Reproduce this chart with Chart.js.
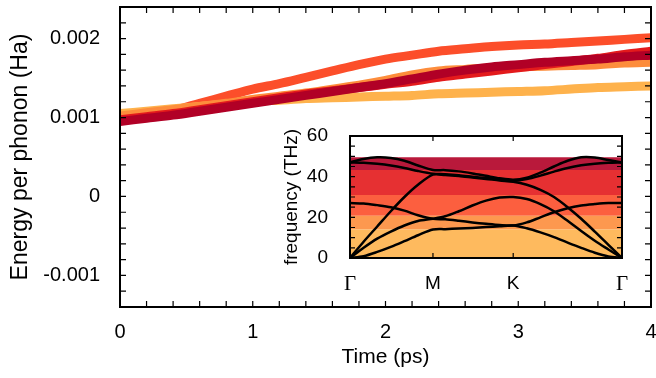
<!DOCTYPE html>
<html>
<head>
<meta charset="utf-8">
<style>
  body { margin: 0; background: #fff; }
  #wrap { position: relative; width: 656px; height: 378px; }
  canvas { position: absolute; }
</style>
</head>
<body>
<div id="wrap">
  <canvas id="energy" width="656" height="378" style="left:0;top:0"></canvas>
  <canvas id="bands" width="360" height="180" style="left:270px;top:120px"></canvas>
</div>
<script src="https://cdn.jsdelivr.net/npm/chart.js"></script>
<script>
// main plot: energy per phonon vs time, one series per frequency window
const times = [0, 0.2, 0.4, 0.6, 0.8, 1, 1.2, 1.4, 1.6, 1.8, 2, 2.2, 2.4, 2.6, 2.8, 3, 3.2, 3.4, 3.6, 3.8, 4];
const eLightOrange = [0.00105, 0.00108, 0.00111, 0.00114, 0.00117, 0.0012, 0.00122, 0.00124, 0.00125, 0.00126, 0.00127, 0.00128, 0.0013, 0.00131, 0.00132, 0.00133, 0.00134, 0.00136, 0.00138, 0.00139, 0.0014];
const eOrange = [0.00102, 0.00106, 0.0011, 0.00114, 0.00118, 0.00123, 0.00127, 0.00131, 0.00136, 0.00141, 0.00147, 0.00154, 0.00159, 0.00161, 0.00163, 0.00164, 0.00165, 0.00166, 0.00167, 0.00169, 0.0017];
const eRedOrange = [0.00099, 0.00103, 0.00109, 0.00118, 0.00127, 0.00136, 0.00143, 0.00151, 0.00159, 0.00167, 0.00174, 0.00179, 0.00184, 0.00187, 0.0019, 0.00192, 0.00193, 0.00195, 0.00197, 0.00199, 0.00201];
const eRed = [0.00097, 0.00101, 0.00105, 0.0011, 0.00115, 0.0012, 0.00125, 0.0013, 0.00134, 0.00138, 0.00142, 0.00146, 0.00151, 0.00155, 0.00159, 0.00163, 0.00167, 0.00171, 0.00175, 0.0018, 0.00184];
const eCrimson = [0.00095, 0.00099, 0.00103, 0.00108, 0.00113, 0.00118, 0.00123, 0.00128, 0.00133, 0.00138, 0.00143, 0.00149, 0.00155, 0.0016, 0.00164, 0.00167, 0.0017, 0.00172, 0.00174, 0.00177, 0.00179];
const timeTicks = [0, 1, 2, 3, 4];
const energyTicks = [-0.001, 0, 0.001, 0.002];
const energyTickLabels = ['-0.001', '0', '0.001', '0.002'];

// inset: phonon dispersion along G-M-K-G
const kPath = [0, 0.05, 0.1, 0.15, 0.2, 0.25, 0.305, 0.35, 0.4, 0.45, 0.5, 0.55, 0.6, 0.65, 0.7, 0.75, 0.8, 0.85, 0.9, 0.95, 1];
const fZA = [0, 0.9, 3, 5.5, 8.3, 11.2, 14, 14.2, 14.5, 14.8, 15.2, 15.6, 16, 14.6, 12.6, 10.3, 7.6, 5, 2.6, 0.8, 0];
const fTA = [0, 5, 9.5, 13, 16, 18.2, 19.3, 20.5, 23, 25.8, 28.2, 29.7, 30, 29, 26.5, 23, 18.3, 13.3, 8.5, 4.2, 0];
const fLA = [0, 8, 15.5, 23, 30, 36, 41, 40.8, 40.3, 39.6, 38.9, 38.1, 37.5, 36, 33.5, 30, 25, 19.3, 13, 6.5, 0];
const fZO = [27, 26.8, 26, 25, 23.3, 21, 19.3, 19, 18.3, 17.5, 16.8, 16.2, 16, 17.5, 20, 22.5, 24.5, 25.8, 26.5, 27, 27];
const fTO = [47, 46.8, 46.3, 45.5, 44.3, 42.8, 41.5, 41.2, 40.7, 40, 39.3, 38.6, 38, 38.8, 40.5, 42.5, 44.3, 45.6, 46.4, 46.8, 47];
const fLO = [47, 48.7, 49.5, 49.2, 47.8, 45.5, 43.3, 43.2, 42.6, 41.6, 40.4, 39.2, 38.5, 39.5, 42, 45, 47.8, 49.5, 49.4, 48.2, 47];
const bandEdges = [0, 14, 20.8, 31, 43.3, 49.6];
const kTicks = [0, 0.305, 0.6, 1];
const kTickLabels = ['Γ', 'M', 'K', 'Γ'];
const freqTicks = [0, 20, 40, 60];

const palette = ['#feb24c', '#fd8d3c', '#fc4e2a', '#e31a1c', '#b10026'];
const paletteFaded = ['rgba(254,178,76,0.9)', 'rgba(253,141,60,0.9)', 'rgba(252,78,42,0.9)', 'rgba(227,26,28,0.9)', 'rgba(177,0,38,0.9)'];

Chart.defaults.font.family = 'Liberation Sans';
Chart.defaults.color = '#000';
Chart.defaults.animation = false;

// box round the plot area with gnuplot style inward ticks
const frame = {
    id: 'frame',
    afterDatasetsDraw(chart, args, o) {
        const ctx = chart.ctx;
        const a = chart.chartArea;
        const x = chart.scales.x;
        const y = chart.scales.y;
        ctx.save();
        ctx.strokeStyle = '#000';
        ctx.lineWidth = 1.2;
        ctx.beginPath();
        o.xMarks.forEach(v => {
            const p = x.getPixelForValue(v);
            ctx.moveTo(p, a.bottom); ctx.lineTo(p, a.bottom - o.len);
            ctx.moveTo(p, a.top); ctx.lineTo(p, a.top + o.len);
        });
        o.yMarks.forEach(v => {
            const p = y.getPixelForValue(v);
            ctx.moveTo(a.left, p); ctx.lineTo(a.left + o.len, p);
            ctx.moveTo(a.right, p); ctx.lineTo(a.right - o.len, p);
        });
        ctx.stroke();
        ctx.lineWidth = 2;
        ctx.strokeRect(a.left, a.top, a.right - a.left, a.bottom - a.top);
        ctx.restore();
    }
};

const xMinor = [];
for (let i = 0; i <= 20; i++) xMinor.push(i * 0.2);
const yMinor = [];
for (let i = -7; i <= 12; i++) yMinor.push(i * 0.0002);

function series(values, color) {
    return {
        data: times.map((t, i) => ({x: t, y: values[i]})),
        borderColor: color,
        borderWidth: 9,
        pointRadius: 0,
        tension: 0.3,
        fill: false,
    };
}

new Chart(document.getElementById('energy'), {
    type: 'line',
    data: {
        datasets: [
            series(eCrimson, palette[4]),
            series(eRed, palette[3]),
            series(eOrange, palette[1]),
            series(eLightOrange, palette[0]),
            series(eRedOrange, palette[2]),
        ],
    },
    options: {
        responsive: false,
        devicePixelRatio: 1,
        layout: { padding: { left: 0, top: 7, right: 5, bottom: 0 } },
        plugins: {
            legend: { display: false },
            tooltip: { enabled: false },
            frame: { xMarks: xMinor, yMarks: yMinor, len: 6 },
        },
        scales: {
            x: {
                type: 'linear', min: 0, max: 4,
                grid: { display: false }, border: { display: false },
                afterBuildTicks: s => { s.ticks = timeTicks.map(v => ({ value: v })); },
                ticks: { padding: 5, font: { size: 20 }, callback: v => String(v) },
                title: { display: true, text: 'Time (ps)', font: { size: 21 }, padding: { top: 0, bottom: 8 } },
                afterFit: s => { s.height = 71; s.paddingLeft = 0; s.paddingRight = 0; },
            },
            y: {
                type: 'linear', min: -0.0014, max: 0.0024,
                grid: { display: false }, border: { display: false },
                afterBuildTicks: s => { s.ticks = energyTicks.map(v => ({ value: v })); },
                ticks: { padding: 12, font: { size: 20 }, callback: (v, i) => energyTickLabels[i] },
                title: { display: true, text: 'Energy per phonon (Ha)', font: { size: 23 }, padding: { top: 7, bottom: 0 } },
                afterFit: s => { s.width = 120; s.paddingTop = 0; s.paddingBottom = 0; },
            },
        },
    },
    plugins: [frame],
});

const branches = [fZA, fTA, fLA, fZO, fTO, fLO].map(f => ({
    data: kPath.map((k, i) => ({ x: k, y: f[i] })),
    borderColor: '#000',
    borderWidth: 2.5,
    pointRadius: 0,
    tension: 0.3,
    fill: false,
}));

const windows = palette.map((c, i) => ({
    data: [{ x: 0, y: bandEdges[i + 1] }, { x: 1, y: bandEdges[i + 1] }],
    borderColor: 'rgba(0,0,0,0)',
    borderWidth: 0,
    pointRadius: 0,
    backgroundColor: paletteFaded[i],
    fill: { value: bandEdges[i] },
}));

const fMarks = [];
for (let f = 0; f <= 60; f += 5) fMarks.push(f);

new Chart(document.getElementById('bands'), {
    type: 'line',
    data: { datasets: branches.concat(windows) },
    options: {
        responsive: false,
        devicePixelRatio: 1,
        layout: { padding: { left: 0, top: 16, right: 8, bottom: 0 } },
        plugins: {
            legend: { display: false },
            tooltip: { enabled: false },
            filler: { drawTime: 'beforeDatasetsDraw' },
            frame: { xMarks: [kTicks[1], kTicks[2]], yMarks: fMarks, len: 5 },
        },
        scales: {
            x: {
                type: 'linear', min: 0, max: 1,
                grid: { display: false }, border: { display: false },
                afterBuildTicks: s => { s.ticks = kTicks.map(v => ({ value: v })); },
                ticks: {
                    padding: 6,
                    callback: (v, i) => kTickLabels[i],
                    font: c => (kTickLabels[c.index] === 'Γ'
                        ? { family: 'Liberation Serif', size: 21 }
                        : { family: 'Liberation Sans', size: 19 }),
                },
                afterFit: s => { s.height = 42; s.paddingLeft = 0; s.paddingRight = 0; },
            },
            y: {
                type: 'linear', min: 0, max: 60,
                grid: { display: false }, border: { display: false },
                afterBuildTicks: s => { s.ticks = freqTicks.map(v => ({ value: v })); },
                ticks: { padding: 14, font: { size: 19 } },
                title: { display: true, text: 'frequency (THz)', font: { size: 19 }, padding: { top: 10, bottom: 0 } },
                afterFit: s => { s.width = 80; s.paddingTop = 0; s.paddingBottom = 0; },
            },
        },
    },
    plugins: [frame],
});
</script>
</body>
</html>
